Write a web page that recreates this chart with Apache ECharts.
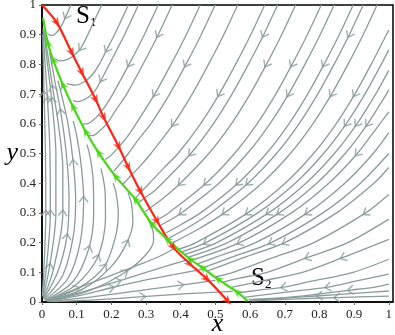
<!DOCTYPE html>
<html>
<head>
<meta charset="utf-8">
<script src="https://cdn.jsdelivr.net/npm/echarts@6/dist/echarts.min.js"></script>
<style>
  html, body { margin: 0; padding: 0; background: #fff; }
  #phase { width: 395px; height: 335px; }
</style>
</head>
<body>
<div id="phase"></div>
<script>
// separatrices as [x, y]
const redCurve = [[0, 1], [0.043, 0.94], [0.086, 0.839], [0.115, 0.772], [0.155, 0.681], [0.178, 0.621], [0.221, 0.523], [0.249, 0.453], [0.284, 0.372], [0.332, 0.272], [0.378, 0.185], [0.427, 0.128], [0.476, 0.077], [0.536, 0.003]]
// green runs from S2 up to the top-left corner
const greenCurve = [[0.593, 0.003], [0.562, 0.034], [0.507, 0.077], [0.461, 0.117], [0.427, 0.144], [0.361, 0.211], [0.315, 0.265], [0.269, 0.346], [0.212, 0.423], [0.163, 0.503], [0.126, 0.574], [0.089, 0.658], [0.06, 0.732], [0.032, 0.815], [0.017, 0.872], [0.003, 0.956]]

// gray streamlines entering at the top edge
const grayFromTop = [
  [[0.083, 1], [0.069, 0.962], [0.055, 0.928], [0.04, 0.905], [0.028, 0.897], [0.018, 0.902]],
  [[0.172, 1], [0.152, 0.95], [0.132, 0.9], [0.112, 0.855], [0.092, 0.83], [0.07, 0.815], [0.05, 0.812], [0.038, 0.82]],
  [[0.249, 1], [0.229, 0.95], [0.209, 0.9], [0.187, 0.85], [0.165, 0.8], [0.145, 0.765], [0.12, 0.74], [0.095, 0.73], [0.072, 0.735]],
  [[0.278, 1], [0.258, 0.95], [0.238, 0.9], [0.216, 0.85], [0.194, 0.8], [0.172, 0.75], [0.152, 0.71], [0.128, 0.685], [0.105, 0.675], [0.09, 0.678]],
  [[0.335, 1], [0.315, 0.95], [0.295, 0.9], [0.251, 0.8], [0.204, 0.7], [0.18, 0.655], [0.155, 0.62], [0.13, 0.6], [0.118, 0.6]],
  [[0.375, 1], [0.335, 0.9], [0.291, 0.8], [0.244, 0.7], [0.215, 0.65], [0.19, 0.605], [0.165, 0.575], [0.145, 0.56], [0.135, 0.56]],
  [[0.456, 1], [0.416, 0.9], [0.372, 0.8], [0.325, 0.7], [0.271, 0.6], [0.245, 0.555], [0.22, 0.52], [0.195, 0.49], [0.182, 0.48]],
  [[0.499, 1], [0.459, 0.9], [0.415, 0.8], [0.368, 0.7], [0.314, 0.6], [0.28, 0.55], [0.249, 0.5], [0.225, 0.465], [0.207, 0.44]],
  [[0.564, 1], [0.524, 0.9], [0.48, 0.8], [0.433, 0.7], [0.379, 0.6], [0.314, 0.5], [0.285, 0.46], [0.26, 0.43], [0.24, 0.405], [0.232, 0.395]],
  [[0.642, 1], [0.602, 0.9], [0.558, 0.8], [0.511, 0.7], [0.457, 0.6], [0.392, 0.5], [0.35, 0.45], [0.31, 0.4], [0.285, 0.37], [0.27, 0.35]],
  [[0.679, 1], [0.639, 0.9], [0.595, 0.8], [0.548, 0.7], [0.494, 0.6], [0.429, 0.5], [0.347, 0.4], [0.32, 0.37], [0.295, 0.35], [0.28, 0.335]],
  [[0.731, 1], [0.691, 0.9], [0.647, 0.8], [0.6, 0.7], [0.546, 0.6], [0.481, 0.5], [0.399, 0.4], [0.35, 0.35], [0.31, 0.315], [0.298, 0.305]],
  [[0.805, 1], [0.765, 0.9], [0.721, 0.8], [0.674, 0.7], [0.62, 0.6], [0.555, 0.5], [0.473, 0.4], [0.365, 0.3], [0.335, 0.277], [0.32, 0.264]],
  [[0.842, 1], [0.802, 0.9], [0.758, 0.8], [0.711, 0.7], [0.657, 0.6], [0.592, 0.5], [0.51, 0.4], [0.402, 0.3], [0.36, 0.27], [0.337, 0.255]],
  [[0.897, 1], [0.857, 0.9], [0.813, 0.8], [0.766, 0.7], [0.712, 0.6], [0.647, 0.5], [0.565, 0.4], [0.457, 0.3], [0.4, 0.26], [0.358, 0.233]],
  [[0.926, 1], [0.886, 0.9], [0.842, 0.8], [0.795, 0.7], [0.741, 0.6], [0.676, 0.5], [0.594, 0.4], [0.486, 0.3], [0.42, 0.25], [0.366, 0.215]],
  [[0.966, 1], [0.926, 0.9], [0.882, 0.8], [0.835, 0.7], [0.781, 0.6], [0.716, 0.5], [0.634, 0.4], [0.526, 0.3], [0.45, 0.245], [0.378, 0.2]]
]

// gray streamlines entering at the right edge
const grayFromRight = [
  [[1, 0.916], [0.993, 0.9], [0.949, 0.8], [0.902, 0.7], [0.848, 0.6], [0.783, 0.5], [0.701, 0.4], [0.593, 0.3], [0.444, 0.2], [0.395, 0.178]],
  [[1, 0.849], [0.978, 0.8], [0.931, 0.7], [0.877, 0.6], [0.812, 0.5], [0.73, 0.4], [0.622, 0.3], [0.473, 0.2], [0.405, 0.17]],
  [[1, 0.78], [0.962, 0.7], [0.908, 0.6], [0.843, 0.5], [0.761, 0.4], [0.653, 0.3], [0.504, 0.2], [0.412, 0.16]],
  [[1, 0.715], [0.993, 0.7], [0.939, 0.6], [0.874, 0.5], [0.792, 0.4], [0.684, 0.3], [0.535, 0.2], [0.42, 0.15]],
  [[1, 0.64], [0.974, 0.6], [0.909, 0.5], [0.827, 0.4], [0.719, 0.3], [0.57, 0.2], [0.43, 0.14]],
  [[1, 0.57], [0.955, 0.5], [0.873, 0.4], [0.765, 0.3], [0.616, 0.2], [0.499, 0.15], [0.448, 0.128]],
  [[1, 0.5], [0.918, 0.4], [0.81, 0.3], [0.661, 0.2], [0.545, 0.15], [0.465, 0.116]],
  [[1, 0.453], [0.957, 0.4], [0.849, 0.3], [0.7, 0.2], [0.583, 0.15], [0.49, 0.11], [0.476, 0.104]],
  [[1, 0.362], [0.933, 0.3], [0.784, 0.2], [0.668, 0.15], [0.551, 0.1], [0.5, 0.085]],
  [[1, 0.279], [0.882, 0.2], [0.766, 0.15], [0.649, 0.1], [0.569, 0.08], [0.52, 0.066]],
  [[1, 0.211], [0.868, 0.15], [0.751, 0.1], [0.631, 0.07], [0.548, 0.05]],
  [[1, 0.144], [0.897, 0.1], [0.777, 0.07], [0.697, 0.05], [0.626, 0.04], [0.565, 0.031]],
  [[1, 0.094], [0.904, 0.07], [0.824, 0.05], [0.753, 0.04], [0.681, 0.03], [0.61, 0.02], [0.585, 0.016]],
  [[1, 0.06], [0.96, 0.05], [0.889, 0.04], [0.817, 0.03], [0.746, 0.02], [0.66, 0.012], [0.595, 0.008]],
  [[1, 0.037], [0.9, 0.029], [0.8, 0.021], [0.7, 0.013], [0.6, 0.006]],
  [[1, 0.02], [0.85, 0.015], [0.72, 0.01], [0.605, 0.004]]
]

// gray streamlines leaving the origin, left of the green curve
const grayFromOrigin = [
  [[0.001, 0.02], [0.006, 0.12], [0.011, 0.3], [0.01, 0.5], [0.006, 0.7], [0.002, 0.9]],
  [[0.002, 0.02], [0.013, 0.12], [0.024, 0.3], [0.023, 0.5], [0.016, 0.68], [0.008, 0.82], [0.003, 0.92]],
  [[0.003, 0.015], [0.022, 0.12], [0.04, 0.3], [0.04, 0.5], [0.028, 0.68], [0.014, 0.82], [0.005, 0.92]],
  [[0.004, 0.012], [0.033, 0.11], [0.06, 0.3], [0.06, 0.45], [0.047, 0.6], [0.031, 0.72], [0.017, 0.83], [0.008, 0.9]],
  [[0.005, 0.01], [0.045, 0.1], [0.072, 0.22], [0.078, 0.35], [0.07, 0.5], [0.054, 0.64], [0.036, 0.75], [0.022, 0.84]],
  [[0.006, 0.008], [0.06, 0.09], [0.09, 0.22], [0.097, 0.346], [0.09, 0.47], [0.075, 0.6], [0.058, 0.69], [0.046, 0.745]],
  [[0.008, 0.006], [0.075, 0.08], [0.11, 0.2], [0.12, 0.346], [0.113, 0.46], [0.1, 0.56], [0.09, 0.61]],
  [[0.01, 0.005], [0.09, 0.07], [0.135, 0.18], [0.149, 0.3], [0.148, 0.4], [0.14, 0.48], [0.13, 0.53]],
  [[0.012, 0.004], [0.1, 0.06], [0.16, 0.15], [0.183, 0.28], [0.182, 0.37], [0.17, 0.45]],
  [[0.014, 0.003], [0.11, 0.05], [0.18, 0.12], [0.212, 0.22], [0.22, 0.3], [0.213, 0.37], [0.205, 0.4]],
  [[0.016, 0.003], [0.12, 0.045], [0.2, 0.12], [0.245, 0.2], [0.262, 0.27], [0.258, 0.33], [0.248, 0.37]],
  [[0.018, 0.003], [0.14, 0.04], [0.24, 0.1], [0.3, 0.16], [0.322, 0.21], [0.318, 0.25], [0.305, 0.28]]
]

// gray streamlines from the origin running right, under the separatrices
const grayAlongBottom = [
  [[0.015, 0.003], [0.1, 0.045], [0.2, 0.09], [0.29, 0.13], [0.35, 0.16], [0.38, 0.18]],
  [[0.015, 0.002], [0.12, 0.035], [0.22, 0.07], [0.3, 0.1], [0.37, 0.125], [0.42, 0.142]],
  [[0.02, 0.002], [0.12, 0.025], [0.2, 0.048], [0.29, 0.072], [0.38, 0.092], [0.46, 0.11]],
  [[0.02, 0.001], [0.15, 0.018], [0.29, 0.04], [0.4, 0.057], [0.5, 0.073]],
  [[0.03, 0.001], [0.15, 0.007], [0.29, 0.018], [0.42, 0.028], [0.55, 0.036]]
]

const GRAY = '#8a9b9b'
const RED = '#ff2414'
const GREEN = '#46d815'
const SERIF = 'Liberation Serif'

const chart = echarts.init(document.getElementById('phase'))

const grayLines = [...grayFromTop, ...grayFromRight, ...grayFromOrigin, ...grayAlongBottom]
const lineSeries = grayLines.map(pts => ({
  type: 'line',
  data: pts,
  showSymbol: false,
  smooth: 0.3,
  silent: true,
  z: 2,
  lineStyle: { color: GRAY, width: 1.3 }
}))
lineSeries.push({
  type: 'line', data: redCurve, showSymbol: false, smooth: 0.3, silent: true, z: 3,
  lineStyle: { color: RED, width: 2.2 }
})
lineSeries.push({
  type: 'line', data: greenCurve, showSymbol: false, smooth: 0.3, silent: true, z: 4,
  lineStyle: { color: GREEN, width: 2.2 }
})

const subLabel = (left, top, n) => ({
  type: 'text', left, top,
  style: {
    text: '{s|S}{n|' + n + '}',
    rich: {
      s: { fontFamily: SERIF, fontSize: 25, fill: '#000' },
      n: { fontFamily: SERIF, fontSize: 13, fill: '#000', verticalAlign: 'bottom', padding: [10, 0, 0, 0] }
    }
  }
})

chart.setOption({
  animation: false,
  grid: {
    left: 42, top: 5, width: 351, height: 297,
    outerBoundsMode: 'none', containLabel: false,
    show: true, borderColor: '#000', borderWidth: 1.5
  },
  xAxis: {
    type: 'value', min: 0, max: 1.012, interval: 0.1,
    name: 'x', nameLocation: 'middle', nameGap: 9, nameMoveOverlap: false,
    nameTextStyle: { fontFamily: SERIF, fontStyle: 'italic', fontSize: 26, color: '#000' },
    axisLine: { show: true, lineStyle: { color: '#000', width: 1.5 } },
    axisTick: { show: true, length: 3, lineStyle: { color: '#666' } },
    axisLabel: { fontFamily: SERIF, fontSize: 13, color: '#222', margin: 6, showMaxLabel: false },
    splitLine: { show: false }
  },
  yAxis: {
    type: 'value', min: 0, max: 1, interval: 0.1,
    name: 'y', nameLocation: 'middle', nameGap: 24, nameRotate: 0, nameMoveOverlap: false,
    nameTextStyle: { fontFamily: SERIF, fontStyle: 'italic', fontSize: 26, color: '#000' },
    axisLine: { show: true, lineStyle: { color: '#000', width: 1.5 } },
    axisTick: { show: true, length: 3, lineStyle: { color: '#666' } },
    axisLabel: { fontFamily: SERIF, fontSize: 13, color: '#222', margin: 6 },
    splitLine: { show: false }
  },
  graphic: [subLabel(76, 4, 1), subLabel(251, 266, 2)],
  series: lineSeries
})

// arrowheads: placed on existing vertices, turned along the local direction in pixel space
const toPx = p => chart.convertToPixel({ gridIndex: 0 }, p)
function angleAt(pts, i) {
  const a = toPx(pts[Math.max(i - 1, 0)])
  const b = toPx(pts[Math.min(i + 1, pts.length - 1)])
  return Math.atan2(-(b[1] - a[1]), b[0] - a[0]) * 180 / Math.PI
}
function arrowVertices(pts, spacing, phase) {
  const cum = [0]
  for (let i = 1; i < pts.length; i++) {
    const a = toPx(pts[i - 1]), b = toPx(pts[i])
    cum.push(cum[i - 1] + Math.hypot(b[0] - a[0], b[1] - a[1]))
  }
  const len = cum[cum.length - 1]
  const n = Math.max(1, Math.round(len / spacing))
  const picked = []
  for (let k = 0; k < n; k++) {
    const target = (k + phase) / n * len
    let best = 1
    for (let i = 1; i < pts.length - 1; i++) {
      if (Math.abs(cum[i] - target) < Math.abs(cum[best] - target)) best = i
    }
    if (!picked.includes(best)) picked.push(best)
  }
  return picked
}

const grayArrowData = []
const phases = [0.3, 0.55, 0.4, 0.7, 0.5]
grayLines.forEach((pts, li) => {
  // stagger the arrows from one line to the next
  arrowVertices(pts, 160, phases[li % phases.length]).forEach(i => grayArrowData.push({ value: pts[i], symbolRotate: angleAt(pts, i) }))
})
const redArrowData = redCurve.slice(1).map((p, j) => ({ value: p, symbolRotate: angleAt(redCurve, j + 1) }))
const greenArrowData = greenCurve.slice(1, -1).map((p, j) => ({ value: p, symbolRotate: angleAt(greenCurve, j + 1) }))

chart.setOption({
  series: lineSeries.concat([
    {
      type: 'scatter', data: grayArrowData, silent: true, z: 2,
      symbol: 'path://M0,0L10,5L0,10', symbolSize: [6, 9],
      itemStyle: { color: 'rgba(0,0,0,0)', borderColor: GRAY, borderWidth: 1.3 }
    },
    {
      type: 'scatter', data: redArrowData, silent: true, z: 5,
      symbol: 'path://M0,0L10,5L0,10L3,5Z', symbolSize: [10, 8],
      itemStyle: { color: RED }
    },
    {
      type: 'scatter', data: greenArrowData, silent: true, z: 6,
      symbol: 'path://M0,0L10,5L0,10L3,5Z', symbolSize: [10, 8],
      itemStyle: { color: GREEN }
    }
  ])
})
</script>
</body>
</html>
